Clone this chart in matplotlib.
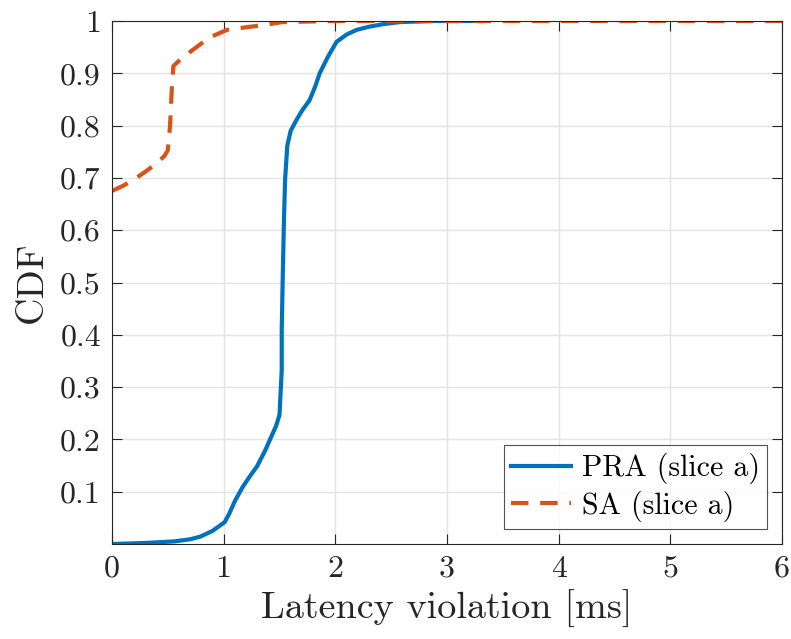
import matplotlib
matplotlib.use("Agg")
import matplotlib.pyplot as plt

pra_x = [0.0, 0.3, 0.56, 0.7, 0.79, 0.9, 1.01, 1.05, 1.1, 1.17, 1.23, 1.30, 1.37, 1.43, 1.47, 1.50, 1.51, 1.52, 1.52, 1.53, 1.54, 1.55, 1.57, 1.60, 1.65, 1.70, 1.77, 1.82, 1.86, 1.93, 2.01, 2.10, 2.19, 2.30, 2.43, 2.58, 2.9, 3.31]
pra_y = [0.0, 0.002, 0.005, 0.009, 0.014, 0.025, 0.042, 0.058, 0.082, 0.109, 0.128, 0.149, 0.178, 0.207, 0.226, 0.247, 0.29, 0.333, 0.41, 0.52, 0.62, 0.696, 0.762, 0.79, 0.81, 0.828, 0.849, 0.875, 0.90, 0.93, 0.96, 0.974, 0.983, 0.989, 0.994, 0.998, 1.0, 1.0]

sa_x = [0.0, 0.1, 0.19, 0.30, 0.40, 0.47, 0.50, 0.52, 0.537, 0.55, 0.62, 0.70, 0.80, 0.90, 1.03, 1.20, 1.35, 1.53, 2.0, 6.0]
sa_y = [0.675, 0.685, 0.696, 0.712, 0.728, 0.742, 0.753, 0.80, 0.877, 0.914, 0.928, 0.941, 0.957, 0.971, 0.983, 0.988, 0.992, 0.998, 1.0, 1.0]

xticks = [0, 1, 2, 3, 4, 5, 6]
yticks = [0.1, 0.2, 0.3, 0.4, 0.5, 0.6, 0.7, 0.8, 0.9, 1.0]
ytick_labels = ["0.1", "0.2", "0.3", "0.4", "0.5", "0.6", "0.7", "0.8", "0.9", "1"]

plt.rcParams['font.family'] = ['cmr10', 'DejaVu Serif']
plt.rcParams['axes.formatter.use_mathtext'] = True

fig = plt.figure(figsize=(7.91, 6.39), dpi=100)
ax = fig.add_axes([112/791, 95/639, 670/791, 523/639])

ax.plot(pra_x, pra_y, color='#0072BD', lw=3.0, label='PRA (slice a)', solid_joinstyle='round')
ax.plot(sa_x, sa_y, color='#D95319', lw=3.0, ls=(0, (4.2, 2.8)), label='SA (slice a)')

ax.set_xlim(0, 6)
ax.set_ylim(0, 1)
ax.set_xticks(xticks)
ax.set_xticklabels([str(t) for t in xticks])
ax.set_yticks(yticks)
ax.set_yticklabels(ytick_labels)
ax.grid(True, color='#e3e3e3', lw=1.0)
ax.set_axisbelow(True)
for s in ax.spines.values():
    s.set_color('#262626')
    s.set_linewidth(0.8)
ax.tick_params(direction='in', top=True, right=True, length=7, width=0.8, color='#262626',
               labelsize=23, labelcolor='#262626', pad=8)
ax.set_xlabel('Latency violation [ms]', fontsize=27.5, color='#262626', labelpad=5)
ax.set_ylabel('CDF', fontsize=27.5, color='#262626', labelpad=8)

leg = ax.legend(loc='lower right', fontsize=21.5, frameon=True, fancybox=False,
                edgecolor='#262626', handlelength=2.0, handletextpad=0.35,
                borderpad=0.25, labelspacing=0.2, borderaxespad=0.5)
leg.get_frame().set_linewidth(0.8)

fig.savefig('out.png', dpi=100)
